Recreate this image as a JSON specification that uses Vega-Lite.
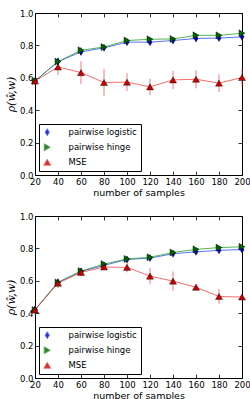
{
  "$schema": "https://vega.github.io/schema/vega-lite/v6.json",
  "padding": {"left": 4, "top": 8, "right": 0, "bottom": 0},
  "spacing": 13,
  "datasets": {
    "top": [
      {"n": 20, "series": "pairwise logistic", "v": 0.58, "e": 0.015},
      {"n": 40, "series": "pairwise logistic", "v": 0.70, "e": 0.025},
      {"n": 60, "series": "pairwise logistic", "v": 0.76, "e": 0.02},
      {"n": 80, "series": "pairwise logistic", "v": 0.785, "e": 0.015},
      {"n": 100, "series": "pairwise logistic", "v": 0.82, "e": 0.012},
      {"n": 120, "series": "pairwise logistic", "v": 0.82, "e": 0.012},
      {"n": 140, "series": "pairwise logistic", "v": 0.83, "e": 0.012},
      {"n": 160, "series": "pairwise logistic", "v": 0.843, "e": 0.012},
      {"n": 180, "series": "pairwise logistic", "v": 0.845, "e": 0.012},
      {"n": 200, "series": "pairwise logistic", "v": 0.853, "e": 0.012},
      {"n": 20, "series": "pairwise hinge", "v": 0.58, "e": 0.015},
      {"n": 40, "series": "pairwise hinge", "v": 0.70, "e": 0.02},
      {"n": 60, "series": "pairwise hinge", "v": 0.77, "e": 0.02},
      {"n": 80, "series": "pairwise hinge", "v": 0.79, "e": 0.015},
      {"n": 100, "series": "pairwise hinge", "v": 0.83, "e": 0.012},
      {"n": 120, "series": "pairwise hinge", "v": 0.838, "e": 0.012},
      {"n": 140, "series": "pairwise hinge", "v": 0.84, "e": 0.012},
      {"n": 160, "series": "pairwise hinge", "v": 0.862, "e": 0.01},
      {"n": 180, "series": "pairwise hinge", "v": 0.862, "e": 0.01},
      {"n": 200, "series": "pairwise hinge", "v": 0.875, "e": 0.01},
      {"n": 20, "series": "MSE", "v": 0.58, "e": 0.02},
      {"n": 40, "series": "MSE", "v": 0.667, "e": 0.05},
      {"n": 60, "series": "MSE", "v": 0.632, "e": 0.07},
      {"n": 80, "series": "MSE", "v": 0.571, "e": 0.085},
      {"n": 100, "series": "MSE", "v": 0.573, "e": 0.055},
      {"n": 120, "series": "MSE", "v": 0.544, "e": 0.05},
      {"n": 140, "series": "MSE", "v": 0.587, "e": 0.057},
      {"n": 160, "series": "MSE", "v": 0.591, "e": 0.055},
      {"n": 180, "series": "MSE", "v": 0.567, "e": 0.055},
      {"n": 200, "series": "MSE", "v": 0.602, "e": 0.05}
    ],
    "bottom": [
      {"n": 20, "series": "pairwise logistic", "v": 0.423, "e": 0.02},
      {"n": 40, "series": "pairwise logistic", "v": 0.59, "e": 0.02},
      {"n": 60, "series": "pairwise logistic", "v": 0.658, "e": 0.02},
      {"n": 80, "series": "pairwise logistic", "v": 0.695, "e": 0.012},
      {"n": 100, "series": "pairwise logistic", "v": 0.732, "e": 0.012},
      {"n": 120, "series": "pairwise logistic", "v": 0.74, "e": 0.012},
      {"n": 140, "series": "pairwise logistic", "v": 0.767, "e": 0.012},
      {"n": 160, "series": "pairwise logistic", "v": 0.779, "e": 0.012},
      {"n": 180, "series": "pairwise logistic", "v": 0.788, "e": 0.012},
      {"n": 200, "series": "pairwise logistic", "v": 0.793, "e": 0.012},
      {"n": 20, "series": "pairwise hinge", "v": 0.42, "e": 0.02},
      {"n": 40, "series": "pairwise hinge", "v": 0.59, "e": 0.02},
      {"n": 60, "series": "pairwise hinge", "v": 0.66, "e": 0.02},
      {"n": 80, "series": "pairwise hinge", "v": 0.703, "e": 0.012},
      {"n": 100, "series": "pairwise hinge", "v": 0.735, "e": 0.012},
      {"n": 120, "series": "pairwise hinge", "v": 0.745, "e": 0.012},
      {"n": 140, "series": "pairwise hinge", "v": 0.775, "e": 0.012},
      {"n": 160, "series": "pairwise hinge", "v": 0.794, "e": 0.01},
      {"n": 180, "series": "pairwise hinge", "v": 0.805, "e": 0.01},
      {"n": 200, "series": "pairwise hinge", "v": 0.81, "e": 0.01},
      {"n": 20, "series": "MSE", "v": 0.42, "e": 0.03},
      {"n": 40, "series": "MSE", "v": 0.585, "e": 0.03},
      {"n": 60, "series": "MSE", "v": 0.652, "e": 0.025},
      {"n": 80, "series": "MSE", "v": 0.685, "e": 0.015},
      {"n": 100, "series": "MSE", "v": 0.683, "e": 0.03},
      {"n": 120, "series": "MSE", "v": 0.629, "e": 0.05},
      {"n": 140, "series": "MSE", "v": 0.598, "e": 0.06},
      {"n": 160, "series": "MSE", "v": 0.56, "e": 0.02},
      {"n": 180, "series": "MSE", "v": 0.503, "e": 0.045},
      {"n": 200, "series": "MSE", "v": 0.50, "e": 0.01}
    ]
  },
  "vconcat": [
    {
      "width": 207, "height": 162,
      "data": {"name": "top"},
      "layer": [
        {
          "mark": {"type": "line", "strokeWidth": 1, "opacity": 0.8},
          "encoding": {
            "x": {"field": "n", "type": "quantitative", "scale": {"domain": [20, 200], "nice": false}, "axis": {"orient": "top", "labels": false, "title": null, "values": [20, 40, 60, 80, 100, 120, 140, 160, 180, 200]}},
            "y": {"field": "v", "type": "quantitative", "scale": {"domain": [0, 1], "nice": false}, "axis": {"orient": "right", "labels": false, "title": null, "values": [0, 0.2, 0.4, 0.6, 0.8, 1.0]}},
            "stroke": {"field": "series", "type": "nominal", "scale": {"domain": ["pairwise logistic", "pairwise hinge", "MSE"], "range": ["#3050ff", "#30a030", "#f04848"]}, "legend": {"title": null, "orient": "bottom-left"}},
            "order": {"field": "n"}
          }
        },
        {
          "mark": {"type": "errorbar", "opacity": 0.6, "thickness": 1.2},
          "encoding": {
            "x": {"field": "n", "type": "quantitative", "axis": null},
            "y": {"field": "v", "type": "quantitative", "axis": null},
            "yError": {"field": "e"},
            "stroke": {"field": "series", "type": "nominal"}
          }
        },
        {
          "mark": {"type": "point", "filled": true, "size": 49, "opacity": 1, "stroke": "#000000", "strokeWidth": 0.4},
          "encoding": {
            "x": {"field": "n", "type": "quantitative", "axis": {"orient": "bottom", "title": "number of samples", "values": [20, 40, 60, 80, 100, 120, 140, 160, 180, 200]}},
            "y": {"field": "v", "type": "quantitative", "axis": {"orient": "left", "title": "ρ(ŵ,w)", "values": [0, 0.2, 0.4, 0.6, 0.8, 1.0], "format": ".1f", "titleFont": "DejaVu Serif", "titleFontStyle": "italic", "titleFontSize": 11, "titlePadding": 3}},
            "fill": {"field": "series", "type": "nominal", "scale": {"domain": ["pairwise logistic", "pairwise hinge", "MSE"], "range": ["#0000c8", "#006400", "#c80000"]}, "legend": {"title": null, "orient": "bottom-left"}},
            "shape": {"field": "series", "type": "nominal", "scale": {"domain": ["pairwise logistic", "pairwise hinge", "MSE"], "range": ["M0,-1L0.6,0L0,1L-0.6,0Z", "triangle-right", "triangle-up"]}, "legend": {"title": null, "orient": "bottom-left"}}
          }
        }
      ],
      "resolve": {"axis": {"x": "independent", "y": "independent"}}
    },
    {
      "width": 207, "height": 162,
      "data": {"name": "bottom"},
      "layer": [
        {
          "mark": {"type": "line", "strokeWidth": 1, "opacity": 0.8},
          "encoding": {
            "x": {"field": "n", "type": "quantitative", "scale": {"domain": [20, 200], "nice": false}, "axis": {"orient": "top", "labels": false, "title": null, "values": [20, 40, 60, 80, 100, 120, 140, 160, 180, 200]}},
            "y": {"field": "v", "type": "quantitative", "scale": {"domain": [0, 1], "nice": false}, "axis": {"orient": "right", "labels": false, "title": null, "values": [0, 0.2, 0.4, 0.6, 0.8, 1.0]}},
            "stroke": {"field": "series", "type": "nominal", "scale": {"domain": ["pairwise logistic", "pairwise hinge", "MSE"], "range": ["#3050ff", "#30a030", "#f04848"]}, "legend": {"title": null, "orient": "bottom-left"}},
            "order": {"field": "n"}
          }
        },
        {
          "mark": {"type": "errorbar", "opacity": 0.6, "thickness": 1.2},
          "encoding": {
            "x": {"field": "n", "type": "quantitative", "axis": null},
            "y": {"field": "v", "type": "quantitative", "axis": null},
            "yError": {"field": "e"},
            "stroke": {"field": "series", "type": "nominal"}
          }
        },
        {
          "mark": {"type": "point", "filled": true, "size": 49, "opacity": 1, "stroke": "#000000", "strokeWidth": 0.4},
          "encoding": {
            "x": {"field": "n", "type": "quantitative", "axis": {"orient": "bottom", "title": "number of samples", "values": [20, 40, 60, 80, 100, 120, 140, 160, 180, 200]}},
            "y": {"field": "v", "type": "quantitative", "axis": {"orient": "left", "title": "ρ(ŵ,w)", "values": [0, 0.2, 0.4, 0.6, 0.8, 1.0], "format": ".1f", "titleFont": "DejaVu Serif", "titleFontStyle": "italic", "titleFontSize": 11, "titlePadding": 3}},
            "fill": {"field": "series", "type": "nominal", "scale": {"domain": ["pairwise logistic", "pairwise hinge", "MSE"], "range": ["#0000c8", "#006400", "#c80000"]}, "legend": {"title": null, "orient": "bottom-left"}},
            "shape": {"field": "series", "type": "nominal", "scale": {"domain": ["pairwise logistic", "pairwise hinge", "MSE"], "range": ["M0,-1L0.6,0L0,1L-0.6,0Z", "triangle-right", "triangle-up"]}, "legend": {"title": null, "orient": "bottom-left"}}
          }
        }
      ],
      "resolve": {"axis": {"x": "independent", "y": "independent"}}
    }
  ],
  "resolve": {
    "scale": {"x": "independent", "y": "independent", "fill": "independent", "stroke": "independent", "shape": "independent"}
  },
  "config": {
    "view": {"stroke": "black", "strokeWidth": 1},
    "axis": {
      "domain": false, "grid": false, "labelOverlap": false, "labelFlush": false, "labelBound": false,
      "labelFont": "DejaVu Sans", "labelFontSize": 8.5, "labelColor": "black",
      "titleFont": "DejaVu Sans", "titleFontSize": 9.5, "titleFontWeight": "normal", "titleColor": "black",
      "tickColor": "black", "tickSize": -4, "tickWidth": 0.8, "labelPadding": 6, "titlePadding": 2
    },
    "legend": {
      "strokeColor": "black", "fillColor": "white", "padding": 4, "rowPadding": 4,
      "symbolSize": 50, "symbolStrokeWidth": 0.8, "labelFont": "DejaVu Sans", "labelFontSize": 8.5, "labelOffset": 17,
      "labelColor": "black", "cornerRadius": 0, "offset": 4, "labelLimit": 200
    }
  }
}
